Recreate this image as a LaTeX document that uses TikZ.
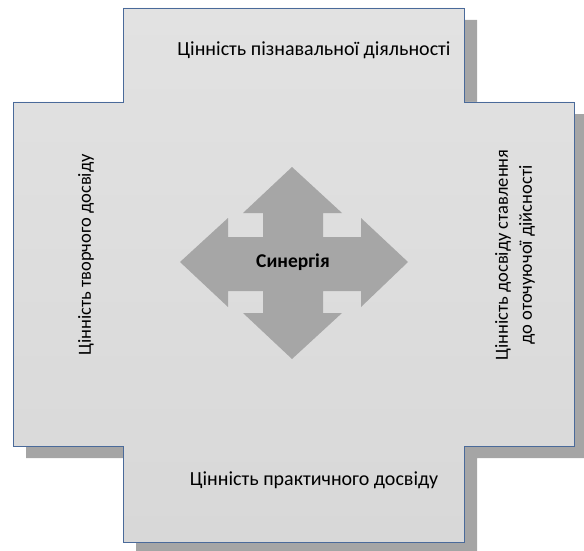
\documentclass[tikz,border=0pt]{standalone}
\usepackage{fontspec}
\setmainfont{Carlito}
\definecolor{crossfillT}{HTML}{E2E2E2}
\definecolor{crossfillB}{HTML}{D8D8D8}
\definecolor{crossedge}{HTML}{4A6A9A}
\definecolor{shadowgray}{HTML}{A5A5A5}
\definecolor{arrowgray}{HTML}{A6A6A6}
\tikzset{
  lbl/.style={font=\fontsize{20}{24}\selectfont, text=black, align=center, inner sep=0pt},
  sidelbl/.style={font=\fontsize{18.5}{24}\selectfont, text=black, align=center, inner sep=0pt, rotate=90},
  crossshape/.style={top color=crossfillT, bottom color=crossfillB, draw=crossedge, line width=0.8pt},
  shadowshape/.style={fill=shadowgray, draw=none},
  arrowshape/.style={fill=arrowgray, draw=none}
}
\begin{document}
\begin{tikzpicture}[x=1pt,y=-1pt]
\useasboundingbox (0,0) rectangle (584,551);
% shadow
\begin{scope}[shift={(13,12)}]
\path[shadowshape] (123,8) -- (464,8) -- (464,102) -- (574,102) -- (574,446) -- (464,446) -- (464,542) -- (123,542) -- (123,446) -- (13,446) -- (13,102) -- (123,102) -- cycle;
\end{scope}
% cross
\path[crossshape] (123,8) -- (464,8) -- (464,102) -- (574,102) -- (574,446) -- (464,446) -- (464,542) -- (123,542) -- (123,446) -- (13,446) -- (13,102) -- (123,102) -- cycle;
% central arrow
\path[arrowshape] (292,167) -- (342,213) -- (323,213) -- (323,237) -- (361,237) -- (361,218) -- (408,262) -- (361,307) -- (361,291) -- (323,291) -- (323,313) -- (342,313) -- (292,359) -- (243,313) -- (263,313) -- (263,291) -- (228,291) -- (228,307) -- (180,262) -- (228,218) -- (228,237) -- (263,237) -- (263,213) -- (243,213) -- cycle;
\node[lbl, font=\fontsize{19.5}{22}\selectfont\bfseries] (syn) at (293,262) {Синергія};
\node[lbl] (top) at (314,50) {Цінність пізнавальної діяльності};
\node[lbl] (bot) at (314,480) {Цінність практичного досвіду};
\node[sidelbl] (left) at (86,255) {Цінність творчого досвіду};
\node[sidelbl] (right) at (515,255) {Цінність досвіду ставлення\\до оточуючої дійсності};
\end{tikzpicture}
\end{document}
